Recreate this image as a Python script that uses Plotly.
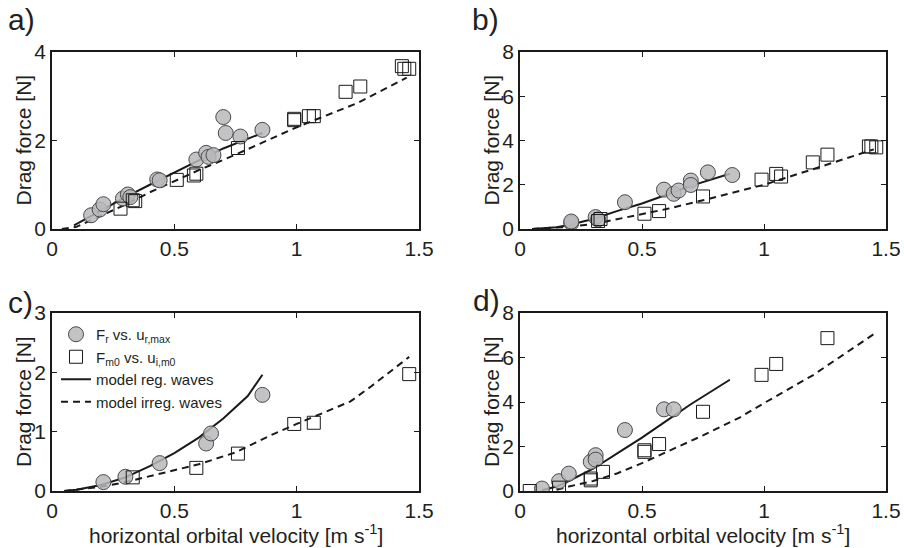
import plotly.graph_objects as go

# ---------------- data ----------------
# panel a
a_circ_x = [0.16, 0.195, 0.21, 0.29, 0.31, 0.32, 0.43, 0.44, 0.59, 0.63, 0.64, 0.66, 0.70, 0.71, 0.77, 0.86]
a_circ_y = [0.31, 0.44, 0.56, 0.69, 0.78, 0.72, 1.12, 1.10, 1.57, 1.72, 1.63, 1.67, 2.53, 2.17, 2.09, 2.24]
a_sq_x = [0.28, 0.33, 0.34, 0.51, 0.58, 0.59, 0.76, 0.99, 0.99, 1.05, 1.07, 1.20, 1.26, 1.43, 1.44, 1.46]
a_sq_y = [0.46, 0.65, 0.63, 1.11, 1.21, 1.25, 1.83, 2.49, 2.46, 2.55, 2.55, 3.10, 3.22, 3.68, 3.62, 3.62]
a_reg_x = [0.09, 0.2, 0.3, 0.4, 0.5, 0.6, 0.7, 0.86]
a_reg_y = [0.08, 0.42, 0.72, 1.0, 1.28, 1.55, 1.82, 2.17]
a_irr_x = [0.04, 0.1, 0.2, 0.3, 0.4, 0.5, 0.6, 0.75, 1.0, 1.25, 1.45]
a_irr_y = [0.0, 0.05, 0.3, 0.55, 0.83, 1.08, 1.33, 1.68, 2.3, 2.85, 3.42]

# panel b
b_circ_x = [0.21, 0.21, 0.31, 0.32, 0.43, 0.59, 0.63, 0.65, 0.70, 0.70, 0.77, 0.87]
b_circ_y = [0.27, 0.34, 0.54, 0.43, 1.21, 1.78, 1.59, 1.74, 2.19, 1.99, 2.56, 2.44]
b_sq_x = [0.32, 0.33, 0.51, 0.57, 0.75, 0.99, 1.05, 1.07, 1.20, 1.26, 1.43, 1.44, 1.46]
b_sq_y = [0.36, 0.45, 0.69, 0.81, 1.47, 2.23, 2.49, 2.37, 3.01, 3.36, 3.73, 3.73, 3.69]
b_reg_x = [0.05, 0.15, 0.2, 0.3, 0.4, 0.5, 0.6, 0.7, 0.86]
b_reg_y = [0.0, 0.08, 0.18, 0.45, 0.82, 1.15, 1.55, 1.95, 2.5]
b_irr_x = [0.05, 0.2, 0.3, 0.4, 0.5, 0.6, 0.75, 1.0, 1.2, 1.45]
b_irr_y = [0.0, 0.1, 0.22, 0.45, 0.65, 0.9, 1.3, 2.0, 2.7, 3.6]

# panel c
c_circ_x = [0.21, 0.30, 0.44, 0.63, 0.65, 0.86]
c_circ_y = [0.15, 0.24, 0.47, 0.80, 0.97, 1.62]
c_sq_x = [0.33, 0.59, 0.76, 0.99, 1.07, 1.46]
c_sq_y = [0.23, 0.39, 0.63, 1.13, 1.15, 1.97]
c_reg_x = [0.05, 0.1, 0.2, 0.3, 0.4, 0.5, 0.6, 0.7, 0.8, 0.86]
c_reg_y = [0.0, 0.02, 0.1, 0.23, 0.42, 0.64, 0.9, 1.22, 1.6, 1.96]
c_irr_x = [0.05, 0.2, 0.3, 0.4, 0.5, 0.6, 0.75, 0.9, 1.0, 1.22, 1.3, 1.46]
c_irr_y = [0.0, 0.07, 0.15, 0.25, 0.35, 0.45, 0.65, 0.95, 1.13, 1.51, 1.75, 2.26]

# panel d
d_circ_x = [0.09, 0.16, 0.20, 0.29, 0.31, 0.31, 0.43, 0.59, 0.63]
d_circ_y = [0.11, 0.44, 0.78, 1.31, 1.61, 1.41, 2.74, 3.67, 3.67]
d_sq_x = [0.04, 0.16, 0.29, 0.29, 0.34, 0.51, 0.51, 0.57, 0.75, 0.99, 1.05, 1.26]
d_sq_y = [0.0, 0.15, 0.48, 0.56, 0.86, 1.83, 1.76, 2.11, 3.56, 5.22, 5.71, 6.87]
d_reg_x = [0.09, 0.15, 0.2, 0.3, 0.4, 0.5, 0.6, 0.7, 0.86]
d_reg_y = [0.03, 0.2, 0.45, 1.0, 1.7, 2.4, 3.15, 3.9, 5.0]
d_irr_x = [0.15, 0.2, 0.3, 0.4, 0.5, 0.6, 0.75, 0.9, 1.0, 1.2, 1.45]
d_irr_y = [0.05, 0.2, 0.45, 0.8, 1.25, 1.75, 2.5, 3.3, 3.95, 5.2, 7.05]

x_ticks = [0, 0.5, 1, 1.5]
x_tick_text = ["0", "0.5", "1", "1.5"]
y_ticks = {"a": [0, 2, 4], "b": [0, 2, 4, 6, 8], "c": [0, 1, 2, 3], "d": [0, 2, 4, 6, 8]}
y_ranges = {"a": [0, 4], "b": [0, 8], "c": [0, 3], "d": [0, 8]}
panel_labels = ["a)", "b)", "c)", "d)"]
legend_names = ["F<sub>r</sub> vs. u<sub>r,max</sub>",
                "F<sub>m0</sub> vs. u<sub>i,m0</sub>",
                "model reg. waves",
                "model irreg. waves"]
y_title = "Drag force [N]"
x_title = "horizontal orbital velocity [m s<sup>-1</sup>]"

panels = {
    "a": (a_circ_x, a_circ_y, a_sq_x, a_sq_y, a_reg_x, a_reg_y, a_irr_x, a_irr_y),
    "b": (b_circ_x, b_circ_y, b_sq_x, b_sq_y, b_reg_x, b_reg_y, b_irr_x, b_irr_y),
    "c": (c_circ_x, c_circ_y, c_sq_x, c_sq_y, c_reg_x, c_reg_y, c_irr_x, c_irr_y),
    "d": (d_circ_x, d_circ_y, d_sq_x, d_sq_y, d_reg_x, d_reg_y, d_irr_x, d_irr_y),
}

# ---------------- layout geometry (pixels) ----------------
W, H = 904, 548
FONT = "Liberation Sans, Arial, Helvetica, sans-serif"
TXT = "#231f20"
FS = 21
boxes = {  # left, right, top, bottom in px
    "a": (52, 419, 52, 229),
    "b": (520, 886, 52, 229),
    "c": (52, 419, 313, 491),
    "d": (520, 886, 313, 491),
}

fig = go.Figure()
layout = dict(
    width=W, height=H, margin=dict(l=0, r=0, t=0, b=0, autoexpand=False),
    paper_bgcolor="white", plot_bgcolor="white",
    font=dict(family=FONT, size=FS, color=TXT),
    showlegend=True,
    annotations=[],
)

for i, key in enumerate(["a", "b", "c", "d"]):
    n = "" if i == 0 else str(i + 1)
    xa, ya = "x" + n, "y" + n
    cx, cy, sx, sy, rx, ry, ix, iy = panels[key]
    show = key == "c"
    fig.add_trace(go.Scatter(x=rx, y=ry, mode="lines", xaxis=xa, yaxis=ya,
                             line=dict(color="#1a1a1a", width=2),
                             name=legend_names[2], showlegend=show, legendrank=3))
    fig.add_trace(go.Scatter(x=ix, y=iy, mode="lines", xaxis=xa, yaxis=ya,
                             line=dict(color="#1a1a1a", width=2, dash="7px,5px"),
                             name=legend_names[3], showlegend=show, legendrank=4))
    fig.add_trace(go.Scatter(x=cx, y=cy, mode="markers", xaxis=xa, yaxis=ya,
                             marker=dict(symbol="circle", size=15, color="rgba(185,185,188,0.85)",
                                         line=dict(color="#4a4a4a", width=1)),
                             name=legend_names[0], showlegend=show, legendrank=1))
    fig.add_trace(go.Scatter(x=sx, y=sy, mode="markers", xaxis=xa, yaxis=ya,
                             marker=dict(symbol="square-open", size=13, color="#1a1a1a",
                                         line=dict(color="#1a1a1a", width=1)),
                             name=legend_names[1], showlegend=show, legendrank=2))
    l, r, t, b = boxes[key]
    common = dict(showline=True, linecolor="#1a1a1a", linewidth=1.5, mirror="ticks",
                  ticks="inside", ticklen=5, tickcolor="#1a1a1a", tickwidth=1,
                  showgrid=False, zeroline=False, automargin=False,
                  tickfont=dict(family=FONT, size=FS, color=TXT))
    layout["xaxis" + n] = dict(common, domain=[l / W, r / W], anchor=ya, range=[0, 1.5],
                               tickvals=x_ticks, ticktext=x_tick_text)
    layout["yaxis" + n] = dict(common, domain=[1 - b / H, 1 - t / H], anchor=xa,
                               range=y_ranges[key], tickvals=y_ticks[key])
    # y-axis title
    layout["annotations"].append(dict(text=y_title, xref="paper", yref="paper",
                                      x=(l - 29) / W, y=1 - ((t + b) / 2) / H,
                                      xanchor="center", yanchor="middle", textangle=-90,
                                      showarrow=False,
                                      font=dict(family=FONT, size=21, color=TXT)))
    if key in ("c", "d"):
        layout["annotations"].append(dict(text=x_title, xref="paper", yref="paper",
                                          x=((l + r) / 2) / W, y=1 - 548 / H,
                                          xanchor="center", yanchor="bottom",
                                          showarrow=False, borderpad=0,
                                          font=dict(family=FONT, size=21, color=TXT)))
    lab_pos = {"a": (6, 20), "b": (470, 20), "c": (6, 302), "d": (471, 300)}[key]
    layout["annotations"].append(dict(text=panel_labels[i], xref="paper", yref="paper",
                                      x=lab_pos[0] / W, y=1 - lab_pos[1] / H,
                                      xanchor="left", yanchor="middle", showarrow=False,
                                      font=dict(family=FONT, size=30, color=TXT)))

layout["legend"] = dict(x=56 / W, y=1 - 318 / H, xanchor="left", yanchor="top",
                        bgcolor="rgba(0,0,0,0)", borderwidth=0, tracegroupgap=0,
                        font=dict(family=FONT, size=15, color=TXT),
                        itemwidth=30, traceorder="normal")
fig.update_layout(**layout)
fig.write_html("out.html")
